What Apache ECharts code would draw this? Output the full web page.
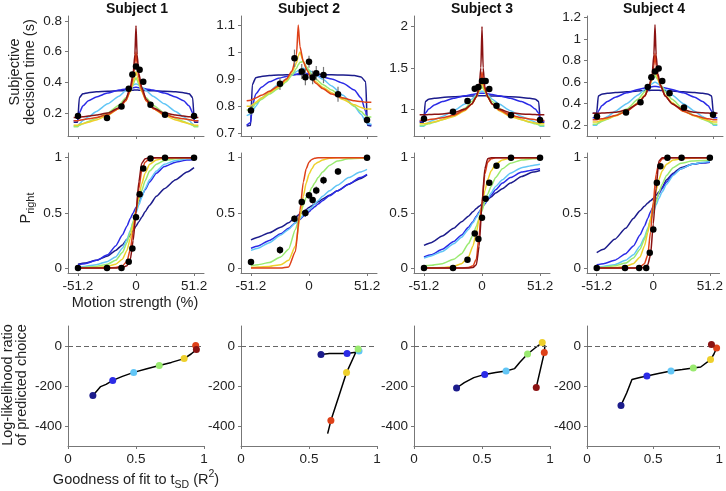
<!DOCTYPE html>
<html>
<head>
<meta charset="utf-8">
<script src="https://cdn.jsdelivr.net/npm/echarts@6/dist/echarts.min.js"></script>
<style>
html, body { margin: 0; padding: 0; background: #fff; }
#chart { width: 726px; height: 491px; }
</style>
</head>
<body>
<div id="chart"></div>
<script>
const subjects = ['Subject 1', 'Subject 2', 'Subject 3', 'Subject 4'];
// model colours, from weakest (navy) to strongest (dark red)
const fitColors = ['#1c1c8c', '#2b2be6', '#62c6f6', '#9aea70', '#eed02c', '#de4119', '#8b1313'];

// motion strengths of the data points
const coh = [-51.2, -25.6, -12.8, -6.4, -3.2, 0, 3.2, 6.4, 12.8, 25.6, 51.2];
const cohTicks = [-51.2, 0, 51.2];

// ---- row 1: subjective decision time (s) ----
const rtS1 = [0.18, 0.167, 0.243, 0.359, 0.452, 0.504, 0.483, 0.404, 0.254, 0.189, 0.18];
const rtS2 = [0.784, 0.883, 0.977, 0.928, 0.907, 0.964, 0.906, 0.922, 0.915, 0.844, 0.749];
const rtErrS2 = [0.016, 0.023, 0.032, 0.028, 0.03, 0.022, 0.025, 0.026, 0.03, 0.028, 0.013];
const rtS3 = [0.883, 0.968, 1.097, 1.247, 1.267, 1.34, 1.34, 1.243, 1.04, 0.923, 0.866];
const rtS4 = [0.28, 0.317, 0.413, 0.555, 0.644, 0.697, 0.725, 0.61, 0.496, 0.364, 0.296];

const rtX = [-55, -51.5, -50, -47, -42, -35, -25, -15, -9, -5, -2.5, -1, 0, 1, 2.5, 5, 9, 15, 25, 35, 42, 47, 50, 51.5, 55];
const rtX2 = [-55, -51.5, -50, -47, -42, -35, -27, -20, -15, -11, -9.5, -8, -5, -2, 2, 6, 12, 20, 30, 40, 46, 50, 51.5, 55];

const rtFitS1 = [
  [0.14,0.14,0.30,0.325,0.333,0.338,0.342,0.345,0.347,0.348,0.349,0.35,0.35,0.35,0.349,0.348,0.347,0.345,0.342,0.338,0.333,0.325,0.30,0.14,0.14],
  [0.15,0.15,0.2,0.245,0.28,0.305,0.33,0.35,0.357,0.362,0.365,0.367,0.368,0.367,0.365,0.362,0.357,0.35,0.33,0.305,0.28,0.245,0.2,0.15,0.15],
  [0.115,0.115,0.13,0.15,0.175,0.21,0.26,0.31,0.345,0.37,0.382,0.388,0.39,0.388,0.382,0.37,0.345,0.31,0.26,0.21,0.175,0.15,0.13,0.115,0.115],
  [0.11,0.11,0.12,0.13,0.145,0.165,0.2,0.25,0.3,0.345,0.385,0.415,0.43,0.415,0.385,0.345,0.3,0.25,0.2,0.165,0.145,0.13,0.12,0.11,0.11],
  [0.12,0.12,0.125,0.13,0.14,0.155,0.185,0.23,0.28,0.34,0.4,0.44,0.47,0.44,0.4,0.34,0.28,0.23,0.185,0.155,0.14,0.13,0.125,0.12,0.12],
  [0.15,0.15,0.152,0.156,0.162,0.17,0.19,0.23,0.28,0.35,0.43,0.52,0.6,0.52,0.43,0.35,0.28,0.23,0.19,0.17,0.162,0.156,0.152,0.15,0.15],
  [0.17,0.17,0.172,0.175,0.18,0.187,0.2,0.235,0.29,0.37,0.46,0.58,0.77,0.58,0.46,0.37,0.29,0.235,0.2,0.187,0.18,0.175,0.172,0.17,0.17]
];
const rtFitS2 = [
  [0.727,0.73,0.88,0.905,0.91,0.913,0.915,0.916,0.917,0.917,0.917,0.917,0.917,0.917,0.917,0.917,0.917,0.916,0.915,0.913,0.908,0.89,0.73,0.727],
  [0.73,0.74,0.8,0.845,0.87,0.89,0.903,0.91,0.915,0.918,0.92,0.921,0.922,0.921,0.918,0.914,0.908,0.9,0.885,0.86,0.83,0.78,0.735,0.73],
  [0.765,0.77,0.78,0.8,0.83,0.855,0.88,0.9,0.915,0.928,0.932,0.935,0.94,0.937,0.928,0.915,0.9,0.875,0.84,0.8,0.77,0.745,0.735,0.733],
  [0.785,0.79,0.795,0.81,0.825,0.845,0.865,0.89,0.915,0.94,0.953,0.962,0.965,0.945,0.92,0.9,0.88,0.86,0.83,0.8,0.78,0.765,0.76,0.76],
  [0.8,0.8,0.805,0.815,0.83,0.85,0.87,0.895,0.925,0.96,0.985,1.0,0.965,0.935,0.91,0.89,0.87,0.85,0.825,0.805,0.795,0.79,0.79,0.79],
  [0.82,0.822,0.825,0.83,0.84,0.855,0.875,0.9,0.93,0.99,1.1,1.02,0.965,0.935,0.905,0.885,0.865,0.845,0.83,0.82,0.817,0.815,0.815,0.815]
];
const rtFitS3 = [
  [0.84,0.84,1.09,1.12,1.13,1.14,1.15,1.155,1.158,1.16,1.16,1.16,1.16,1.16,1.16,1.16,1.158,1.155,1.15,1.14,1.13,1.12,1.09,0.84,0.84],
  [0.85,0.85,0.95,1.0,1.05,1.09,1.13,1.16,1.175,1.185,1.19,1.19,1.19,1.19,1.19,1.185,1.175,1.16,1.13,1.09,1.05,1.0,0.95,0.85,0.85],
  [0.79,0.79,0.81,0.84,0.87,0.91,0.98,1.06,1.12,1.17,1.2,1.21,1.22,1.21,1.2,1.17,1.12,1.06,0.98,0.91,0.87,0.84,0.81,0.79,0.79],
  [0.8,0.8,0.81,0.82,0.84,0.87,0.92,1.01,1.09,1.16,1.21,1.25,1.27,1.25,1.21,1.16,1.09,1.01,0.92,0.87,0.84,0.82,0.81,0.8,0.8],
  [0.82,0.82,0.825,0.83,0.845,0.87,0.91,0.98,1.06,1.14,1.22,1.28,1.32,1.28,1.22,1.14,1.06,0.98,0.91,0.87,0.845,0.83,0.825,0.82,0.82],
  [0.86,0.86,0.865,0.87,0.88,0.895,0.925,0.99,1.06,1.15,1.24,1.34,1.45,1.34,1.24,1.15,1.06,0.99,0.925,0.895,0.88,0.87,0.865,0.86,0.86],
  [0.93,0.93,0.93,0.932,0.935,0.94,0.955,1.0,1.06,1.15,1.27,1.5,2.0,1.5,1.27,1.15,1.06,1.0,0.955,0.94,0.935,0.932,0.93,0.93,0.93]
];
const rtFitS4 = [
  [0.31,0.31,0.47,0.487,0.495,0.503,0.51,0.517,0.52,0.522,0.525,0.525,0.525,0.525,0.525,0.522,0.52,0.517,0.51,0.503,0.495,0.487,0.47,0.31,0.31],
  [0.27,0.27,0.33,0.38,0.42,0.46,0.5,0.53,0.545,0.553,0.557,0.559,0.56,0.559,0.557,0.553,0.545,0.53,0.5,0.46,0.42,0.38,0.33,0.27,0.27],
  [0.2,0.2,0.22,0.245,0.28,0.33,0.4,0.48,0.53,0.565,0.585,0.595,0.6,0.595,0.585,0.565,0.53,0.48,0.4,0.33,0.28,0.245,0.22,0.2,0.2],
  [0.21,0.21,0.22,0.235,0.255,0.29,0.35,0.44,0.51,0.575,0.62,0.645,0.66,0.645,0.62,0.575,0.51,0.44,0.35,0.29,0.255,0.235,0.22,0.21,0.21],
  [0.23,0.23,0.235,0.245,0.26,0.285,0.33,0.41,0.48,0.56,0.63,0.68,0.72,0.68,0.63,0.56,0.48,0.41,0.33,0.285,0.26,0.245,0.235,0.23,0.23],
  [0.25,0.25,0.255,0.26,0.27,0.29,0.33,0.4,0.47,0.56,0.65,0.75,0.87,0.75,0.65,0.56,0.47,0.4,0.33,0.29,0.27,0.26,0.255,0.25,0.25],
  [0.31,0.31,0.31,0.312,0.315,0.32,0.34,0.4,0.47,0.57,0.68,0.85,1.13,0.85,0.68,0.57,0.47,0.4,0.34,0.32,0.315,0.312,0.31,0.31,0.31]
];
const rtRange = [[0.05, 0.833], [0.69, 1.133], [0.672, 2.13], [0.1, 1.212]];
const rtTicks = [[0.2, 0.4, 0.6, 0.8], [0.7, 0.8, 0.9, 1, 1.1], [1, 1.5, 2], [0.2, 0.4, 0.6, 0.8, 1, 1.2]];

// ---- row 2: P(right) ----
const pS1 = [0, 0, 0, 0.057, 0.178, 0.46, 0.668, 0.903, 0.994, 1, 1];
const pS2 = [0.054, 0.163, 0.447, 0.598, 0.498, 0.659, 0.616, 0.704, 0.795, 0.876, 1];
const pErrS2 = [0.02, 0.035, 0.03, 0.035, 0.035, 0.03, 0.03, 0.035, 0.035, 0.03, 0];
const pS3 = [0, 0, 0.076, 0.314, 0.263, 0.456, 0.628, 0.773, 0.927, 1, 1];
const pS4 = [0, 0, 0, 0, 0.139, 0.35, 0.773, 0.924, 1, 1, 1];

const pX = [-51.2, -45, -35, -25, -18, -12, -8, -5, -2.5, 0, 2.5, 5, 8, 12, 18, 25, 35, 45, 51.2];
const pFitS1 = [
  [0.035,0.045,0.07,0.11,0.16,0.21,0.26,0.3,0.34,0.38,0.42,0.46,0.51,0.57,0.65,0.72,0.8,0.87,0.91],
  [0.03,0.04,0.07,0.12,0.2,0.3,0.38,0.45,0.5,0.55,0.6,0.65,0.71,0.78,0.86,0.92,0.96,0.98,0.985],
  [0.01,0.015,0.03,0.06,0.1,0.18,0.26,0.34,0.42,0.5,0.57,0.64,0.72,0.8,0.88,0.94,0.975,0.99,0.993],
  [0.005,0.008,0.015,0.035,0.07,0.14,0.23,0.33,0.42,0.52,0.62,0.7,0.79,0.88,0.94,0.975,0.99,0.997,1],
  [0,0,0.005,0.015,0.035,0.08,0.16,0.27,0.39,0.52,0.65,0.76,0.86,0.94,0.98,0.995,1,1,1],
  [0,0,0,0,0.005,0.02,0.06,0.17,0.33,0.52,0.72,0.88,0.96,0.99,1,1,1,1,1],
  [0,0,0,0,0,0.005,0.02,0.08,0.25,0.5,0.78,0.95,0.99,1,1,1,1,1,1]
];
const pFitS2 = [
  [0.255,0.28,0.32,0.37,0.41,0.46,0.49,0.51,0.53,0.55,0.565,0.58,0.6,0.625,0.66,0.7,0.76,0.81,0.845],
  [0.18,0.2,0.25,0.31,0.36,0.41,0.44,0.47,0.49,0.51,0.535,0.555,0.58,0.61,0.655,0.7,0.76,0.82,0.85],
  [0.16,0.18,0.23,0.3,0.35,0.41,0.45,0.48,0.5,0.53,0.55,0.58,0.61,0.65,0.7,0.75,0.82,0.87,0.895],
  [0.02,0.03,0.05,0.1,0.17,0.35,0.48,0.57,0.64,0.68,0.73,0.77,0.82,0.87,0.93,0.97,0.99,0.995,1],
  [0.005,0.01,0.015,0.03,0.07,0.2,0.45,0.65,0.77,0.85,0.9,0.94,0.96,0.98,0.995,1,1,1,1],
  [0,0,0,0,0.01,0.15,0.52,0.78,0.9,0.96,0.985,0.995,1,1,1,1,1,1,1]
];
const pFitS3 = [
  [0.205,0.23,0.29,0.36,0.42,0.47,0.51,0.54,0.56,0.58,0.6,0.62,0.645,0.68,0.72,0.77,0.83,0.87,0.885],
  [0.1,0.12,0.17,0.24,0.3,0.37,0.42,0.47,0.51,0.55,0.58,0.62,0.66,0.71,0.77,0.82,0.87,0.89,0.9],
  [0.09,0.11,0.15,0.22,0.28,0.35,0.41,0.46,0.5,0.55,0.59,0.63,0.68,0.74,0.8,0.86,0.91,0.93,0.94],
  [0.02,0.025,0.04,0.08,0.13,0.22,0.3,0.38,0.45,0.52,0.6,0.67,0.74,0.82,0.9,0.95,0.98,0.99,0.995],
  [0,0,0.005,0.015,0.04,0.1,0.2,0.32,0.45,0.57,0.7,0.8,0.88,0.94,0.98,0.995,1,1,1],
  [0,0,0,0,0,0.005,0.02,0.08,0.3,0.6,0.85,0.96,0.99,1,1,1,1,1,1],
  [0,0,0,0,0,0,0.005,0.03,0.2,0.58,0.9,0.99,1,1,1,1,1,1,1]
];
const pFitS4 = [
  [0.14,0.17,0.26,0.36,0.45,0.52,0.56,0.59,0.61,0.63,0.66,0.69,0.73,0.8,0.86,0.91,0.94,0.955,0.96],
  [0.03,0.04,0.07,0.13,0.2,0.3,0.38,0.45,0.51,0.56,0.62,0.67,0.72,0.78,0.85,0.9,0.94,0.955,0.96],
  [0.01,0.015,0.03,0.07,0.12,0.2,0.28,0.36,0.43,0.5,0.57,0.63,0.69,0.76,0.84,0.9,0.94,0.96,0.965],
  [0.005,0.01,0.02,0.045,0.09,0.17,0.26,0.35,0.44,0.52,0.6,0.68,0.76,0.84,0.91,0.95,0.97,0.975,0.98],
  [0,0,0.005,0.015,0.04,0.1,0.2,0.32,0.45,0.57,0.7,0.8,0.88,0.94,0.98,0.99,0.995,1,1],
  [0,0,0,0,0,0.01,0.04,0.12,0.33,0.6,0.85,0.95,0.99,1,1,1,1,1,1],
  [0,0,0,0,0,0,0.005,0.03,0.12,0.4,0.72,0.97,1,1,1,1,1,1,1]
];
const pTicks = [0, 0.5, 1];

// ---- row 3: log-likelihood ratio vs goodness of fit (R2) ----
const llrLineS1 = [[0.183,-247],[0.215,-222],[0.24,-203],[0.28,-192],[0.329,-172],[0.4,-152],[0.483,-132],[0.58,-114],[0.671,-98],[0.76,-82],[0.854,-63],[0.905,-40],[0.944,-18],[0.939,2]];
const llrLineS2 = [[0.588,-42],[0.65,-38],[0.72,-37],[0.78,-38],[0.83,-33],[0.868,-25],[0.861,-15],[0.845,-30],[0.776,-133],[0.72,-250],[0.661,-373],[0.637,-438]];
const llrLineS3 = [[0.313,-210],[0.37,-183],[0.44,-158],[0.52,-142],[0.6,-132],[0.677,-125],[0.74,-113],[0.78,-80],[0.835,-40],[0.89,-10],[0.943,17],[0.962,0],[0.958,-33],[0.899,-207]];
const llrLineS4 = [[0.257,-297],[0.3,-235],[0.34,-167],[0.4,-158],[0.453,-150],[0.54,-137],[0.635,-125],[0.72,-118],[0.804,-110],[0.86,-105],[0.934,-68],[0.96,-40],[0.98,-10],[0.941,7]];
const llrDotsS1 = [[0.183,-247],[0.329,-172],[0.483,-132],[0.671,-98],[0.854,-63],[0.939,2],[0.944,-18]];
const llrDotsS2 = [[0.588,-42],[0.78,-38],[0.868,-25],[0.861,-15],[0.776,-133],[0.661,-373]];
const llrDotsS3 = [[0.313,-210],[0.52,-142],[0.677,-125],[0.835,-40],[0.943,17],[0.958,-33],[0.899,-207]];
const llrDotsS4 = [[0.257,-297],[0.453,-150],[0.635,-125],[0.804,-110],[0.934,-68],[0.98,-10],[0.941,7]];
const llrTicks = [-400, -200, 0];
const r2Ticks = [0, 0.5, 1];

// ---- layout ----
const font = "'Liberation Sans', Arial, Helvetica, sans-serif";
const axisCol = '#777';
const lefts = [68, 241, 414, 587];
const rowTop = [16, 153, 326];
const panelW = 136, panelH = 120;

const rtData = [rtS1, rtS2, rtS3, rtS4];
const rtFits = [rtFitS1, rtFitS2, rtFitS3, rtFitS4];
const rtFitX = [rtX, rtX2, rtX, rtX];
const pData = [pS1, pS2, pS3, pS4];
const pFits = [pFitS1, pFitS2, pFitS3, pFitS4];
const llrLines = [llrLineS1, llrLineS2, llrLineS3, llrLineS4];
const llrDots = [llrDotsS1, llrDotsS2, llrDotsS3, llrDotsS4];

function makeAxis(gi, min, max, ticks, showLabel) {
  return {
    type: 'value', gridIndex: gi, min: min, max: max,
    axisLine: { show: true, onZero: false, lineStyle: { color: axisCol, width: 1 } },
    axisTick: { show: true, inside: false, length: 3, customValues: ticks, lineStyle: { color: axisCol } },
    axisLabel: { show: showLabel, customValues: ticks, fontSize: 13.5, fontFamily: font, color: '#222', margin: 6 },
    splitLine: { show: false }
  };
}

const grids = [], xAxes = [], yAxes = [], series = [];

for (let r = 0; r < 3; r++) {
  for (let p = 0; p < 4; p++) {
    const gi = r * 4 + p;
    grids.push({ left: lefts[p], top: rowTop[r], width: panelW, height: panelH });
    if (r === 0) {
      xAxes.push(makeAxis(gi, -60, 60, cohTicks, false));
      yAxes.push(makeAxis(gi, rtRange[p][0], rtRange[p][1], rtTicks[p], true));
    } else if (r === 1) {
      xAxes.push(makeAxis(gi, -60, 60, cohTicks, true));
      yAxes.push(makeAxis(gi, -0.045, 1.043, pTicks, true));
    } else {
      xAxes.push(makeAxis(gi, 0, 1, r2Ticks, true));
      yAxes.push(makeAxis(gi, -500, 100, llrTicks, true));
    }
  }
}

function fitLine(gi, xs, ys, color) {
  return {
    type: 'line', xAxisIndex: gi, yAxisIndex: gi, silent: true,
    data: xs.map((x, i) => [x, ys[i]]),
    symbol: 'none', smooth: 0.2, smoothMonotone: 'x',
    lineStyle: { width: 1.5, color: color }
  };
}
function dots(gi, ys) {
  return {
    type: 'scatter', xAxisIndex: gi, yAxisIndex: gi, silent: true,
    data: coh.map((c, i) => [c, ys[i]]),
    symbolSize: 6.5, itemStyle: { color: '#000', opacity: 1 }, z: 5
  };
}
function errBars(gi, ys, es) {
  return {
    type: 'custom', xAxisIndex: gi, yAxisIndex: gi, silent: true, z: 4,
    data: coh.map((c, i) => [c, ys[i] - es[i], ys[i] + es[i]]),
    renderItem: (params, api) => {
      const a = api.coord([api.value(0), api.value(1)]);
      const b = api.coord([api.value(0), api.value(2)]);
      return { type: 'line', shape: { x1: a[0], y1: a[1], x2: b[0], y2: b[1] },
               style: { stroke: '#777', lineWidth: 1.2 } };
    }
  };
}

for (let p = 0; p < 4; p++) {
  // row 1
  rtFits[p].forEach((ys, k) => series.push(fitLine(p, rtFitX[p], ys, fitColors[k])));
  if (p === 1) series.push(errBars(p, rtS2, rtErrS2));
  series.push(dots(p, rtData[p]));
  // row 2
  const g2 = 4 + p;
  pFits[p].forEach((ys, k) => series.push(fitLine(g2, pX, ys, fitColors[k])));
  if (p === 1) series.push(errBars(g2, pS2, pErrS2));
  series.push(dots(g2, pData[p]));
  // row 3
  const g3 = 8 + p;
  series.push({
    type: 'line', xAxisIndex: g3, yAxisIndex: g3, silent: true,
    data: llrLines[p], symbol: 'none', smooth: false,
    lineStyle: { width: 1.5, color: '#000' },
    markLine: {
      silent: true, symbol: 'none', label: { show: false },
      lineStyle: { type: [5, 3], color: '#666', width: 1 },
      data: [{ yAxis: 0 }]
    }
  });
  series.push({
    type: 'scatter', xAxisIndex: g3, yAxisIndex: g3, silent: true, z: 5,
    data: llrDots[p].map((d, k) => ({ value: d, itemStyle: { color: fitColors[k], opacity: 1 } })),
    symbolSize: 7
  });
}

const titleX = [137, 309, 482, 654];
const graphic = subjects.map((s, i) => ({
  type: 'text', x: titleX[i], y: 9,
  style: { text: s, font: 'bold 14px ' + font, fill: '#111', align: 'center', verticalAlign: 'middle' }
}));
graphic.push(
  { type: 'text', x: 22, y: 72, rotation: Math.PI / 2,
    style: { text: 'Subjective\ndecision time (s)', font: '14.5px ' + font, fill: '#222',
             align: 'center', verticalAlign: 'middle', lineHeight: 15 } },
  { type: 'text', x: 26, y: 208, rotation: Math.PI / 2,
    style: { text: '{a|P}{b|right}', align: 'center', verticalAlign: 'middle', fill: '#222',
             rich: { a: { fontSize: 14.5, fontFamily: font, lineHeight: 20 },
                     b: { fontSize: 11, fontFamily: font, lineHeight: 20, verticalAlign: 'bottom' } } } },
  { type: 'text', x: 135, y: 303,
    style: { text: 'Motion strength (%)', font: '14.5px ' + font, fill: '#222', align: 'center', verticalAlign: 'middle' } },
  { type: 'text', x: 15, y: 385, rotation: Math.PI / 2,
    style: { text: 'Log-likelihood ratio\nof predicted choice', font: '14.5px ' + font, fill: '#222',
             align: 'center', verticalAlign: 'middle', lineHeight: 14 } },
  { type: 'text', x: 136, y: 480,
    style: { text: '{a|Goodness of fit to t}{b|SD}{a| (R}{c|2}{a|)}', align: 'center', verticalAlign: 'middle', fill: '#222',
             rich: { a: { fontSize: 14.5, fontFamily: font, lineHeight: 22 },
                     b: { fontSize: 10.5, fontFamily: font, lineHeight: 22, verticalAlign: 'bottom' },
                     c: { fontSize: 10.5, fontFamily: font, lineHeight: 22, verticalAlign: 'top' } } } }
);

const chart = echarts.init(document.getElementById('chart'));
chart.setOption({
  animation: false,
  backgroundColor: '#fff',
  textStyle: { fontFamily: font },
  grid: grids,
  xAxis: xAxes,
  yAxis: yAxes,
  series: series,
  graphic: graphic
});
</script>
</body>
</html>
